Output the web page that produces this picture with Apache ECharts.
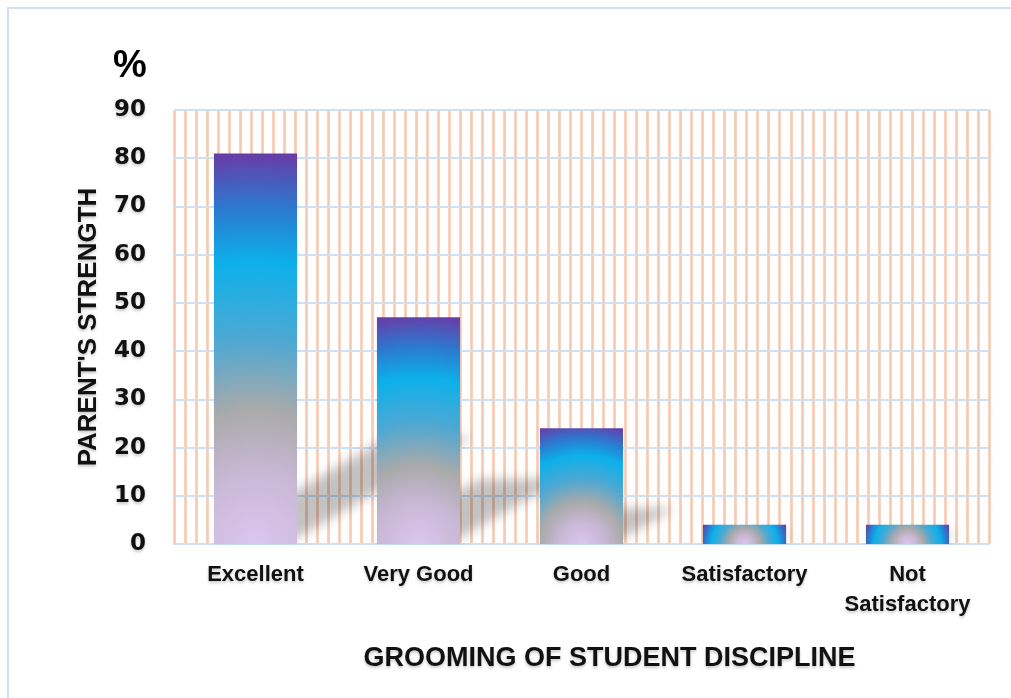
<!DOCTYPE html>
<html>
<head>
<meta charset="utf-8">
<script src="https://cdn.jsdelivr.net/npm/echarts@6/dist/echarts.min.js"></script>
<style>
html, body { margin: 0; padding: 0; background: #fff; }
#main { width: 1011px; height: 698px; }
</style>
</head>
<body>
<div id="main"></div>
<script>
// data
var categories = ['Excellent', 'Very Good', 'Good', 'Satisfactory', 'Not\nSatisfactory'];
var values = [81, 47, 24, 4, 4];
var yMin = 0, yMax = 90, yStep = 10;
var stripeCount = 74; // thin vertical stripes behind the bars

var boldFont = 'Liberation Sans';
var fadeText = {
    textShadowColor: 'rgba(0,0,0,0.22)',
    textShadowBlur: 3,
    textShadowOffsetY: 2
};
// path gradient from bottom centre (lavender) out to corners (purple)
var barStops = [
    { offset: 0, color: '#dcc6ee' },
    { offset: 0.18, color: '#c9b8d6' },
    { offset: 0.34, color: '#aaaaaa' },
    { offset: 0.52, color: '#4fa8d2' },
    { offset: 0.72, color: '#0cb0ea' },
    { offset: 0.86, color: '#2d78cf' },
    { offset: 1, color: '#6a3aa6' }
];
var barRatio = 0.51;

function barColor(w, h) {
    var r = Math.sqrt(w * w / 4 + h * h) / Math.min(w, h);
    return { type: 'radial', x: 0.5, y: 1, r: r, colorStops: barStops };
}

// blurred slanted shadow; shape drawn off screen, only its shadow lands on the chart
function renderShadow(params, api) {
    var base = api.coord([api.value(0), 0]);
    var top = api.coord([api.value(0), api.value(1)]);
    var w = api.size([1, 0])[0] * barRatio;
    var h = base[1] - top[1];
    var dx = h * 0.45, dy = h * 0.26, off = 3000;
    var xl = base[0] - w / 2 - off, xr = base[0] + w / 2 - off, y0 = base[1] - 6;
    return {
        type: 'polygon',
        shape: { points: [[xl, y0], [xr, y0], [xr + dx, y0 - dy], [xl + dx, y0 - dy]] },
        style: {
            fill: '#000',
            shadowColor: 'rgba(0,0,0,0.24)',
            shadowBlur: 12,
            shadowOffsetX: off
        }
    };
}

var chart = echarts.init(document.getElementById('main'));

var option = {
    animation: false,
    backgroundColor: '#fff',
    title: {
        text: '%',
        left: 108,
        top: 43,
        textStyle: { fontFamily: boldFont, fontWeight: 'bold', fontSize: 38, color: '#000' }
    },
    graphic: [{
        type: 'rect',
        shape: { x: 8, y: 8, width: 1100, height: 800 },
        style: { fill: null, stroke: '#cfe0f3', lineWidth: 2 },
        silent: true
    }],
    grid: { left: 174, right: 22, top: 110, bottom: 154 },
    xAxis: [{
        type: 'category',
        data: categories,
        z: 1,
        axisLine: { lineStyle: { color: '#cfe0f3', width: 2 } },
        axisTick: { show: false },
        axisLabel: Object.assign({
            interval: 0,
            margin: 16,
            fontFamily: boldFont,
            fontWeight: 'bold',
            fontSize: 22,
            lineHeight: 30,
            color: '#111'
        }, fadeText),
        name: 'GROOMING OF STUDENT DISCIPLINE',
        nameLocation: 'middle',
        nameGap: 101,
        nameTextStyle: Object.assign({
            fontFamily: boldFont,
            fontWeight: 'bold',
            fontSize: 27,
            color: '#111',
            padding: [0, 0, 0, 56]
        }, fadeText)
    }, {
        type: 'value',
        position: 'top',
        min: 0,
        max: stripeCount,
        interval: 1,
        z: 0,
        axisLine: { show: false },
        axisTick: { show: false },
        axisLabel: { show: false },
        splitLine: { show: true, lineStyle: { color: '#f7c8b0', width: 2.6 } }
    }],
    yAxis: {
        type: 'value',
        min: yMin,
        max: yMax,
        interval: yStep,
        z: 1,
        axisLine: { show: false },
        axisTick: { show: false },
        splitLine: { lineStyle: { color: '#cfe0f3', width: 2 } },
        axisLabel: Object.assign({
            margin: 28,
            fontFamily: 'DejaVu Sans',
            fontWeight: 'bold',
            fontSize: 23,
            color: '#111'
        }, fadeText),
        name: "PARENT'S STRENGTH",
        nameLocation: 'middle',
        nameRotate: 90,
        nameGap: 72,
        nameTextStyle: Object.assign({
            fontFamily: boldFont,
            fontWeight: 'bold',
            fontSize: 26,
            color: '#111'
        }, fadeText)
    },
    series: [{
        type: 'custom',
        xAxisIndex: 0,
        yAxisIndex: 0,
        z: 2,
        silent: true,
        renderItem: renderShadow,
        data: values.map(function (v, i) { return [i, v]; })
    }, {
        type: 'bar',
        xAxisIndex: 0,
        yAxisIndex: 0,
        z: 3,
        barWidth: (barRatio * 100) + '%',
        data: values
    }]
};

chart.setOption(option);

// second pass: size each bar's gradient to its own pixel box
var cw = chart.convertToPixel({ xAxisIndex: 0 }, 1) - chart.convertToPixel({ xAxisIndex: 0 }, 0);
var y0 = chart.convertToPixel({ yAxisIndex: 0 }, 0);
var barW = cw * barRatio;
chart.setOption({
    series: [{}, {
        data: values.map(function (v) {
            var h = y0 - chart.convertToPixel({ yAxisIndex: 0 }, v);
            return { value: v, itemStyle: { color: barColor(barW, h) } };
        })
    }]
});
</script>
</body>
</html>
